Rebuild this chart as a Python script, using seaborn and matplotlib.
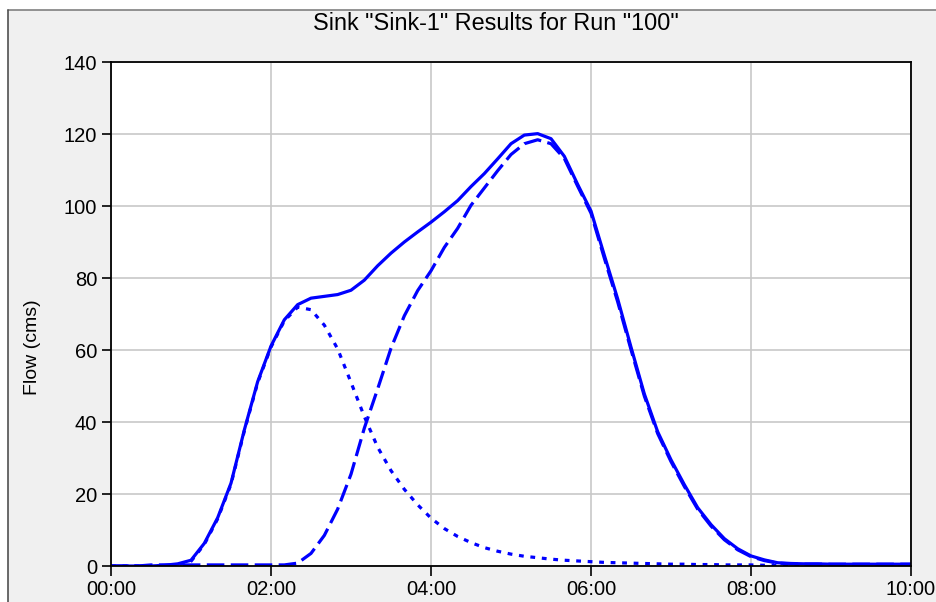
import matplotlib
matplotlib.use("Agg")
import pandas as pd
import matplotlib.pyplot as plt
from matplotlib.patches import Rectangle
from matplotlib.lines import Line2D
import seaborn as sns

# time in minutes from start of run
minutes = list(range(0, 610, 10))

# combined outflow at the sink (solid)
total_flow = [0.0, 0.0, 0.0, 0.0, 0.2, 0.6, 1.6, 6.3, 13.4, 23.0,
              37.8, 51.2, 61.1, 68.4, 72.6, 74.4, 74.9, 75.4, 76.6, 79.4,
              83.4, 86.9, 90.0, 92.8, 95.5, 98.4, 101.5, 105.4, 109.0, 113.1,
              117.3, 119.7, 120.1, 118.7, 113.8, 106.0, 98.6, 86.3, 74.2, 60.8,
              47.8, 37.3, 29.5, 22.6, 16.2, 11.5, 7.6, 4.8, 2.8, 1.7,
              0.9, 0.7, 0.6, 0.6, 0.5, 0.5, 0.5, 0.5, 0.5, 0.5, 0.5]

# first inflow (dotted)
inflow_1 = [0.0, 0.0, 0.0, 0.0, 0.0, 0.3, 1.3, 6.0, 13.1, 22.7,
            37.5, 50.9, 60.8, 68.1, 71.9, 71.2, 66.9, 60.3, 51.0, 41.5,
            33.0, 26.5, 21.3, 17.0, 13.3, 10.4, 8.2, 6.5, 5.1, 4.1,
            3.3, 2.7, 2.3, 1.9, 1.6, 1.4, 1.2, 1.0, 0.9, 0.8,
            0.7, 0.6, 0.5, 0.5, 0.4, 0.4, 0.3, 0.3, 0.3, 0.2,
            0.2, 0.2, 0.2, 0.1, 0.1, 0.1, 0.1, 0.1, 0.1, 0.1, 0.1]

# second inflow (dashed)
inflow_2 = [0.0, 0.0, 0.0, 0.3, 0.3, 0.3, 0.3, 0.3, 0.3, 0.3,
            0.3, 0.3, 0.3, 0.3, 0.8, 3.5, 8.5, 15.8, 25.5, 38.3,
            49.2, 60.5, 69.5, 76.5, 82.0, 88.5, 93.8, 100.2, 105.0, 109.8,
            114.3, 117.3, 118.4, 117.3, 113.2, 105.5, 98.0, 85.5, 73.4, 60.1,
            47.2, 36.8, 29.0, 22.1, 15.8, 11.1, 7.3, 4.5, 2.6, 1.5,
            0.8, 0.6, 0.5, 0.5, 0.5, 0.5, 0.5, 0.5, 0.5, 0.5, 0.5]

tick_minutes = [0, 120, 240, 360, 480, 600]
tick_labels = ["00:00", "02:00", "04:00", "06:00", "08:00", "10:00"]
y_ticks = [0, 20, 40, 60, 80, 100, 120, 140]

sns.set_theme(style="whitegrid")
plt.rcParams['font.family'] = ['Liberation Sans', 'DejaVu Sans']

W, H = 937, 602
fig = plt.figure(figsize=(W / 100, H / 100), dpi=100, facecolor='white')

# window-like panel behind the chart
fig.add_artist(Rectangle((8 / W, -0.1), 1.2, 1.1 - 10 / H, transform=fig.transFigure,
                         facecolor='#f0f0f0', edgecolor='none', zorder=-5))
fig.add_artist(Line2D([8 / W, 1.1], [1 - 10 / H, 1 - 10 / H], transform=fig.transFigure,
                      color='#808080', linewidth=1.2, zorder=-4))
fig.add_artist(Line2D([8 / W, 8 / W], [-0.1, 1 - 10 / H], transform=fig.transFigure,
                      color='#505050', linewidth=1.2, zorder=-4))

ax = fig.add_axes([111 / W, 1 - 566 / H, 800 / W, 504 / H])
ax.set_facecolor('white')

df = pd.DataFrame({"minutes": minutes, "total": total_flow,
                   "in1": inflow_1, "in2": inflow_2})

blue = '#0000ff'
sns.lineplot(data=df, x="minutes", y="in1", ax=ax, color=blue, linewidth=2.3,
             linestyle=(0, (1.5, 2.1)))
sns.lineplot(data=df, x="minutes", y="in2", ax=ax, color=blue, linewidth=2.3,
             linestyle=(0, (5.5, 2.0)))
sns.lineplot(data=df, x="minutes", y="total", ax=ax, color=blue, linewidth=2.3)

ax.set_xlim(0, 600)
ax.set_ylim(0, 140)
ax.set_xticks(tick_minutes)
ax.set_xticklabels(tick_labels)
ax.set_yticks(y_ticks)
ax.set_xlabel("")
ax.set_ylabel("")

ax.grid(True, color='#c8c8c8', linewidth=1.2)
for side in ['left', 'bottom', 'top', 'right']:
    ax.spines[side].set_visible(True)
    ax.spines[side].set_color('black')
    ax.spines[side].set_linewidth(1.3)
ax.tick_params(axis='both', direction='out', width=1.2, color='black',
               labelsize=14.5, labelcolor='black', left=True, bottom=True)
ax.tick_params(axis='x', length=7, pad=3)
ax.tick_params(axis='y', length=6.5, pad=3.4)

fig.text(496 / W, 1 - 24 / H, 'Sink "Sink-1" Results for Run "100"',
         ha='center', va='center', fontsize=16.8, color='black')
fig.text(33 / W, 1 - 347 / H, 'Flow (cms)', ha='center', va='center',
         rotation=90, fontsize=14, color='black')

fig.savefig("out.png", dpi=100, facecolor=fig.get_facecolor())
